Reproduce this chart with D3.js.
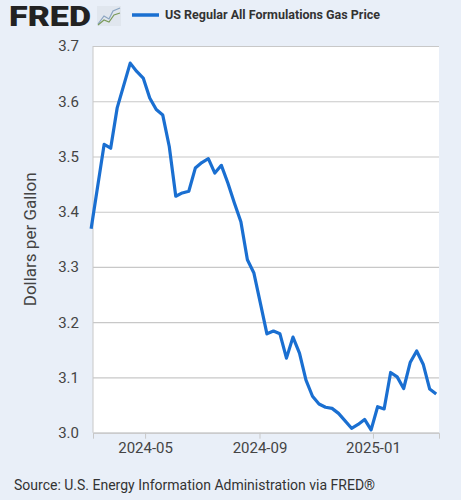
<!DOCTYPE html>
<html><head><meta charset="utf-8">
<script src="https://cdn.jsdelivr.net/npm/d3@7"></script>
<style>body{margin:0;background:#e9eff8;font-family:Roboto,"Noto Sans",sans-serif}</style>
</head><body><svg id="c" width="461" height="500"></svg>
<script>
var dates = ["2024-03-04","2024-03-18","2024-03-25","2024-04-01","2024-04-15","2024-04-22","2024-04-29",
  "2024-05-06","2024-05-13","2024-05-20","2024-05-27","2024-06-03","2024-06-10","2024-06-17","2024-06-24",
  "2024-07-01","2024-07-08","2024-07-15","2024-07-22","2024-07-29","2024-08-05","2024-08-12","2024-08-19",
  "2024-08-26","2024-09-02","2024-09-09","2024-09-16","2024-09-23","2024-09-30","2024-10-07","2024-10-14",
  "2024-10-21","2024-10-28","2024-11-04","2024-11-11","2024-11-18","2024-11-25","2024-12-09","2024-12-16",
  "2024-12-23","2024-12-30","2025-01-06","2025-01-13","2025-01-20","2025-01-27","2025-02-03","2025-02-10",
  "2025-02-17","2025-02-24","2025-03-03","2025-03-10"];
var prices = [3.369,3.522,3.515,3.588,3.669,3.654,3.642,3.606,3.585,3.575,3.518,3.428,3.434,3.437,3.479,
  3.489,3.496,3.470,3.484,3.452,3.416,3.382,3.313,3.289,3.234,3.179,3.184,3.179,3.135,3.173,3.144,3.095,
  3.066,3.052,3.046,3.044,3.035,3.008,3.015,3.024,3.005,3.047,3.043,3.109,3.101,3.080,3.127,3.148,3.124,
  3.079,3.070];
var yTicks = [3.0,3.1,3.2,3.3,3.4,3.5,3.6,3.7];
var xTicks = ["2024-05-01","2024-09-01","2025-01-01"];

var parse = d3.utcParse("%Y-%m-%d");
var data = dates.map(function(d, i) { return {date: parse(d), value: prices[i]}; });
var svg = d3.select("#c");
var pL = 93, pR = 439, pT = 46, pB = 432.7;

var x = d3.scaleUtc().domain([parse("2024-03-06"), parse("2025-03-13")]).range([pL, pR]);
var y = d3.scaleLinear().domain([3.0, 3.7]).range([pB, pT]);

svg.append("rect").attr("x", pL).attr("y", pT).attr("width", pR - pL).attr("height", pB - pT)
  .attr("fill", "#fff");

var ya = svg.append("g").attr("transform", "translate(" + pL + ",0)")
  .call(d3.axisLeft(y).tickValues(yTicks).tickFormat(d3.format(".1f")).tickSize(-(pR - pL)).tickPadding(14));
ya.select(".domain").remove();
ya.selectAll("line").attr("stroke", "#c8c8c8").attr("stroke-width", 1.2);
ya.selectAll("text").attr("fill", "#444").style("font-size", "15px").style("font-family", "Roboto");

var xa = svg.append("g").attr("transform", "translate(0," + pB + ")")
  .call(d3.axisBottom(x).tickValues(xTicks.map(parse)).tickFormat(d3.utcFormat("%Y-%m")).tickSize(6).tickPadding(4));
xa.select(".domain").attr("stroke", "#c8c8c8");
xa.selectAll("line").attr("stroke", "#c8c8c8");
xa.selectAll("text").attr("fill", "#444").style("font-size", "15px").style("font-family", "Roboto");

svg.append("line").attr("x1", pL).attr("x2", pL).attr("y1", pT).attr("y2", pB).attr("stroke", "#c8c8c8");

svg.append("path").datum(data).attr("fill", "none").attr("stroke", "#1a6fd1").attr("stroke-width", 3.2)
  .attr("stroke-linejoin", "round")
  .attr("d", d3.line().x(function(d) { return x(d.date); }).y(function(d) { return y(d.value); }));

svg.append("text").attr("transform", "translate(36," + ((pT + pB) / 2) + ") rotate(-90)")
  .attr("text-anchor", "middle").attr("fill", "#444").style("font-size", "17px").text("Dollars per Gallon");

// header
svg.append("text").attr("x", 9).attr("y", 26).attr("fill", "#222").style("font-size", "28px")
  .style("font-weight", "900").style("font-family", "Roboto")
  .attr("textLength", 82).attr("lengthAdjust", "spacingAndGlyphs").text("FRED");
svg.append("rect").attr("x", 97).attr("y", 6).attr("width", 24).attr("height", 20).attr("fill", "#e0e6ee");
svg.append("polyline").attr("points", "98,24 104,16 109,19 113,11 120,8").attr("fill", "none")
  .attr("stroke", "#8aa4c0").attr("stroke-width", 1.2);
svg.append("polyline").attr("points", "98,25 104,20 109,22 114,15 120,13").attr("fill", "none")
  .attr("stroke", "#7a9a5a").attr("stroke-width", 1.2);
svg.append("line").attr("x1", 132).attr("x2", 159).attr("y1", 15).attr("y2", 15)
  .attr("stroke", "#1a6fd1").attr("stroke-width", 3.5);
svg.append("text").attr("x", 165).attr("y", 19).attr("fill", "#333").style("font-size", "12.5px")
  .style("font-weight", "bold").text("US Regular All Formulations Gas Price");

svg.append("text").attr("x", 14).attr("y", 490).attr("fill", "#333").style("font-size", "14px")
  .text("Source: U.S. Energy Information Administration via FRED\u00ae");
</script></body></html>
